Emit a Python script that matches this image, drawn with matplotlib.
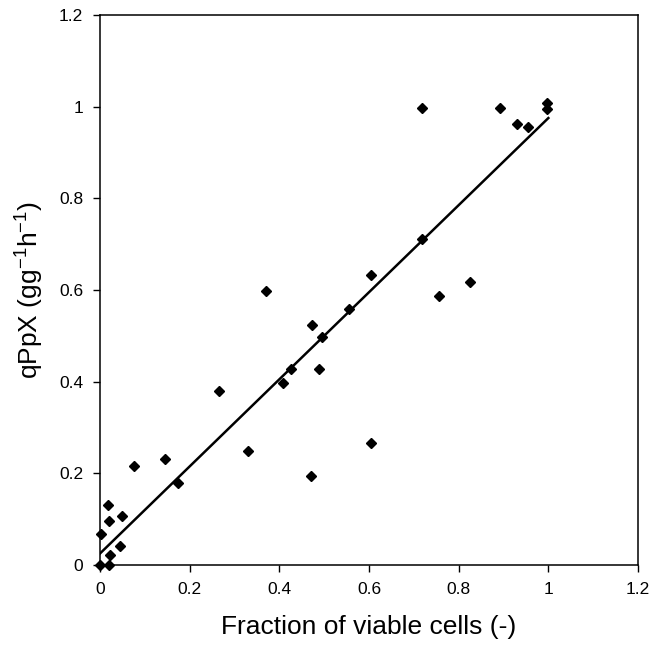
import numpy as np
import matplotlib
matplotlib.use('Agg')
import matplotlib.pyplot as plt

plt.rcParams['font.family'] = ['Liberation Sans', 'DejaVu Sans']

# fraction of viable cells vs qPpX
viable = [0.0, 0.02, 0.0015, 0.02, 0.017, 0.022, 0.045, 0.05, 0.076, 0.146,
          0.175, 0.266, 0.33, 0.37, 0.409, 0.427, 0.471, 0.472, 0.489, 0.496,
          0.556, 0.605, 0.605, 0.719, 0.719, 0.756, 0.826, 0.892, 0.93, 0.955,
          0.998, 0.998]
qppx = [0.0, 0.0, 0.068, 0.097, 0.131, 0.023, 0.041, 0.108, 0.216, 0.231,
        0.178, 0.38, 0.248, 0.598, 0.398, 0.428, 0.194, 0.524, 0.428, 0.497,
        0.558, 0.633, 0.266, 0.996, 0.712, 0.587, 0.617, 0.996, 0.962, 0.956,
        1.007, 0.995]

# trend line
fit_slope = 0.95
fit_intercept = 0.025
fit_range = [0.0, 1.0]

ticks = [0, 0.2, 0.4, 0.6, 0.8, 1, 1.2]
tick_labels = ['0', '0.2', '0.4', '0.6', '0.8', '1', '1.2']

fig = plt.figure(figsize=(6.66, 6.48), dpi=100)
ax = fig.add_axes([0.150, 0.128, 0.808, 0.849])

ax.plot(viable, qppx, 'D', color='black', markersize=5.5, linestyle='none', clip_on=False, zorder=3)
xf = np.array(fit_range)
ax.plot(xf, fit_slope * xf + fit_intercept, color='black', linewidth=1.8)

ax.set_xlim(0, 1.2)
ax.set_ylim(0, 1.2)
ax.set_xticks(ticks)
ax.set_xticklabels(tick_labels)
ax.set_yticks(ticks)
ax.set_yticklabels(tick_labels)
ax.tick_params(direction='out', length=5, width=1, labelsize=12.5, pad=7, colors='black')
for s in ax.spines.values():
    s.set_linewidth(1.1)

ax.set_xlabel('Fraction of viable cells (-)', fontsize=19, labelpad=13)
ax.set_ylabel('qPpX (gg$^{\\mathregular{-1}}$h$^{\\mathregular{-1}}$)', fontsize=19, labelpad=10)

plt.savefig('out.png', dpi=100)
